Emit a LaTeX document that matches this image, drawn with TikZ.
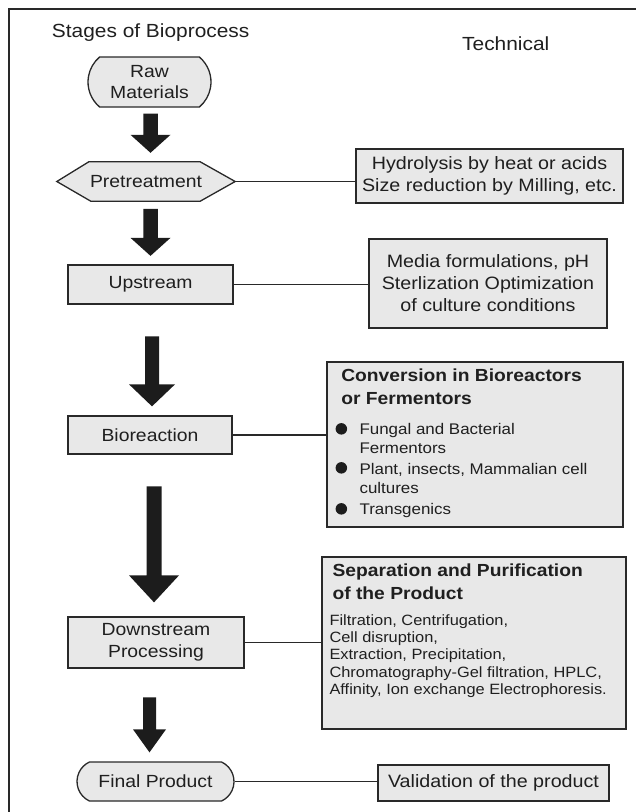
\documentclass[tikz,border=0pt]{standalone}
\usepackage{fontspec}
\setmainfont[FakeStretch=1.1]{Liberation Sans}
\usetikzlibrary{shapes.misc,calc}
\pgfdeclarelayer{bg}
\pgfsetlayers{bg,main}
\definecolor{boxfill}{gray}{0.91}
\definecolor{ink}{gray}{0.16}
\definecolor{txt}{gray}{0.12}
\definecolor{arr}{gray}{0.11}
\newcommand{\blockarrow}[5]{%
  \fill[arr] let \p1=(#1), \p2=(#2) in
    (\x1-#3/2,\y1) -- (\x1+#3/2,\y1) -- (\x1+#3/2,\y2+#5) -- (\x1+#4/2,\y2+#5) -- (\x1,\y2)
    -- (\x1-#4/2,\y2+#5) -- (\x1-#3/2,\y2+#5) -- cycle;}
\tikzset{
  boxsty/.style={draw=ink, fill=boxfill, line width=1.3pt},
  box/.style={boxsty, inner sep=0pt, align=center, text=txt},
  lbl/.style={font=\fontsize{17.6}{20.7}\selectfont},
  tech/.style={font=\fontsize{17.9}{22.5}\selectfont},
  hd/.style={font=\bfseries\fontsize{17.5}{22}\selectfont, anchor=base west, inner sep=0pt, text=txt},
  itm/.style={font=\fontsize{15.4}{19.5}\selectfont, anchor=base west, inner sep=0pt, text=txt},
  lst/.style={font=\fontsize{14.9}{17.25}\selectfont, anchor=base west, inner sep=0pt, text=txt},
  dot/.style={circle, fill=arr, minimum size=11.5pt, inner sep=0pt},
  conn/.style={draw=ink, line width=1.2pt},
  pill/.style={box, rounded rectangle},
}
\begin{document}
\begin{tikzpicture}[x=1pt,y=-1pt]
\useasboundingbox (0,0) rectangle (636,812);
\draw[ink, line width=2.6pt] (9,812) -- (9,9) -- (636,9);

% headings
\node[anchor=base west, inner sep=0pt, text=txt, font=\fontsize{19}{23}\selectfont] (title) at (51.7,37.7) {Stages of Bioprocess};
\node[anchor=base west, inner sep=0pt, text=txt, font=\fontsize{19}{23}\selectfont] (techhead) at (462,50) {Technical};

% left column
\node[pill, rounded rectangle arc length=100, minimum width=123pt, minimum height=50pt, lbl] (raw) at (149.5,82) {Raw\\Materials};
\node[inner sep=0pt, minimum width=178pt, minimum height=39pt, lbl, text=txt] (pre) at (146,181.5) {Pretreatment};
\begin{pgfonlayer}{bg}
\filldraw[boxsty] (pre.west) -- ([xshift=32pt]pre.north west) -- ([xshift=-35pt]pre.north east) -- (pre.east)
  -- ([xshift=-35pt]pre.south east) -- ([xshift=34pt]pre.south west) -- cycle;
\end{pgfonlayer}
\node[box, minimum width=165pt, minimum height=39pt, lbl] (up) at (150.5,284.5) {Upstream};
\node[box, minimum width=164pt, minimum height=38pt, lbl] (bio) at (150,435) {Bioreaction};
\node[box, minimum width=176pt, minimum height=51pt, font=\fontsize{17.6}{22}\selectfont] (down) at (156,642.5) {Downstream\\Processing};
\node[pill, rounded rectangle arc length=130, minimum width=157pt, minimum height=39pt, lbl] (final) at (155.5,781.5) {Final Product};

% right column
\node[box, minimum width=267pt, minimum height=54pt, tech] (hyd) at (489.5,176) {Hydrolysis by heat or acids\\Size reduction by Milling, etc.};
\node[box, minimum width=238pt, minimum height=89pt, font=\fontsize{17.9}{22}\selectfont] (media) at (488,283.5) {Media formulations, pH\\Sterlization Optimization\\of culture conditions};
\node[box, minimum width=296pt, minimum height=165pt] (conv) at (475,444.5) {};
\node[box, minimum width=304pt, minimum height=172pt] (sep) at (474,643) {};
\node[box, minimum width=231pt, minimum height=36pt, tech] (val) at (493.5,783) {Validation of the product};

% conversion box content
\node[hd] (c1) at ($(conv.north west)+(14.7,20.3)$) {Conversion in Bioreactors};
\node[hd] (c2) at ($(conv.north west)+(14.7,43)$) {or Fermentors};
\node[dot] (b1) at ($(conv.north west)+(15,67.5)$) {};
\node[dot] (b2) at ($(conv.north west)+(15,106.5)$) {};
\node[dot] (b3) at ($(conv.north west)+(15,147.5)$) {};
\node[itm] (i1) at ($(conv.north west)+(33,73)$) {Fungal and Bacterial};
\node[itm] (i2) at ($(conv.north west)+(33,92.5)$) {Fermentors};
\node[itm] (i3) at ($(conv.north west)+(33,113.5)$) {Plant, insects, Mammalian cell};
\node[itm] (i4) at ($(conv.north west)+(33,132.5)$) {cultures};
\node[itm] (i5) at ($(conv.north west)+(33,153.5)$) {Transgenics};

% separation box content
\node[hd] (s1) at ($(sep.north west)+(11,20.3)$) {Separation and Purification};
\node[hd] (s2) at ($(sep.north west)+(11,43)$) {of the Product};
\node[lst] (l1) at ($(sep.north west)+(8,69)$) {Filtration, Centrifugation,};
\node[lst] (l2) at ($(sep.north west)+(8,86.25)$) {Cell disruption,};
\node[lst] (l3) at ($(sep.north west)+(8,103.5)$) {Extraction, Precipitation,};
\node[lst] (l4) at ($(sep.north west)+(8,120.75)$) {Chromatography-Gel filtration, HPLC,};
\node[lst] (l5) at ($(sep.north west)+(8,138)$) {Affinity, Ion exchange Electrophoresis.};

% connectors
\draw[conn] (pre.east) -- (pre.east -| hyd.west);
\draw[conn] (up.east) -- (up.east -| media.west);
\draw[conn] (bio.east) -- (bio.east -| conv.west);
\draw[conn] (down.east) -- (down.east -| sep.west);
\draw[conn] (final.east) -- (final.east -| val.west);

% block arrows
\blockarrow{$(raw.south)+(1,6)$}{$(pre.north)+(1,-9)$}{14.5pt}{40pt}{18pt}
\blockarrow{$(up.north)+(0,-55.5)$}{$(up.north)+(0,-8.5)$}{14.5pt}{40pt}{18pt}
\blockarrow{$(bio.north)+(2,-79)$}{$(bio.north)+(2,-9)$}{14pt}{46pt}{22pt}
\blockarrow{$(down.north)+(-2,-130)$}{$(down.north)+(-2,-14)$}{15pt}{50pt}{27pt}
\blockarrow{$(final.north)+(-6,-64)$}{$(final.north)+(-6,-9)$}{13pt}{33pt}{23pt}
\end{tikzpicture}
\end{document}
